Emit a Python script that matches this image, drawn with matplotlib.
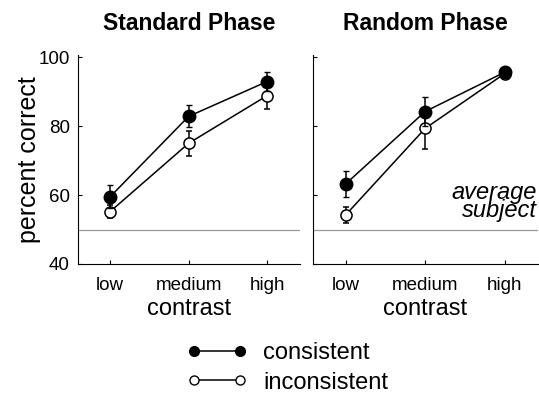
import matplotlib
matplotlib.use("Agg")
import matplotlib.pyplot as plt
from matplotlib.lines import Line2D

plt.rcParams['font.family'] = ['Liberation Sans', 'DejaVu Sans']

categories = ["low", "medium", "high"]
panels = ["Standard Phase", "Random Phase"]
std_consistent = [59.5, 82.8, 92.9]
std_consistent_err = [3.3, 3.2, 2.7]
std_inconsistent = [55.2, 75.0, 88.8]
std_inconsistent_err = [2.0, 3.6, 3.9]
rnd_consistent = [63.2, 84.2, 95.6]
rnd_consistent_err = [3.8, 4.3, 1.6]
rnd_inconsistent = [54.2, 79.3, 95.2]
rnd_inconsistent_err = [2.4, 6.0, 1.5]
chance = 50
yticks = [40, 60, 80, 100]

fig = plt.figure(figsize=(5.39, 3.97), dpi=100)
ax1 = fig.add_axes([78/539, 133/397, 222/539, 209/397])
ax2 = fig.add_axes([313/539, 133/397, 225/539, 209/397])

data = [
    (std_consistent, std_consistent_err, std_inconsistent, std_inconsistent_err),
    (rnd_consistent, rnd_consistent_err, rnd_inconsistent, rnd_inconsistent_err),
]
x = list(range(len(categories)))
for ax, title, (c, ce, i, ie) in zip([ax1, ax2], panels, data):
    ax.axhline(chance, color='0.6', lw=0.9, zorder=1)
    ax.errorbar(x, i, yerr=ie, color='black', lw=1.1, marker='o', ms=8,
                mfc='white', mec='black', mew=1.1, capsize=2, elinewidth=1.1, zorder=3)
    ax.errorbar(x, c, yerr=ce, color='black', lw=1.1, marker='o', ms=9,
                mfc='black', mec='black', capsize=2, elinewidth=1.1, zorder=4)
    ax.set_xlim(-0.41, 2.42)
    ax.set_ylim(40, 100.6)
    ax.set_yticks(yticks)
    ax.set_xticks(x)
    ax.set_xticklabels(categories, fontsize=13.5)
    ax.tick_params(direction='in', length=3, width=0.8)
    ax.tick_params(axis='x', pad=9)
    ax.tick_params(axis='y', pad=6)
    ax.spines['top'].set_visible(False)
    ax.spines['right'].set_visible(False)
    ax.set_xlabel("contrast", fontsize=17, labelpad=3)
    ax.set_title(title, fontsize=16.5, fontweight='bold', pad=18)

ax1.set_yticklabels([str(v) for v in yticks], fontsize=13.5)
ax1.set_ylabel("percent correct", fontsize=18, labelpad=-2)
ax2.set_yticklabels([])

ax2.text(0.995, 0.30, "average\nsubject", transform=ax2.transAxes, ha='right', va='center',
         fontsize=17, style='italic', linespacing=0.72)

h1 = Line2D([], [], color='black', lw=1.1, marker='o', ms=7, mfc='black', mec='black')
h2 = Line2D([], [], color='black', lw=1.1, marker='o', ms=6.5, mfc='white', mec='black')
fig.legend([h1, h2], ["consistent", "inconsistent"], loc='center left',
           bbox_to_anchor=(175/539, 1 - 368/397), frameon=False, numpoints=2,
           fontsize=17, handlelength=2.56, handletextpad=0.67, labelspacing=0.3,
           borderpad=0)

fig.savefig("out.png", dpi=100)
